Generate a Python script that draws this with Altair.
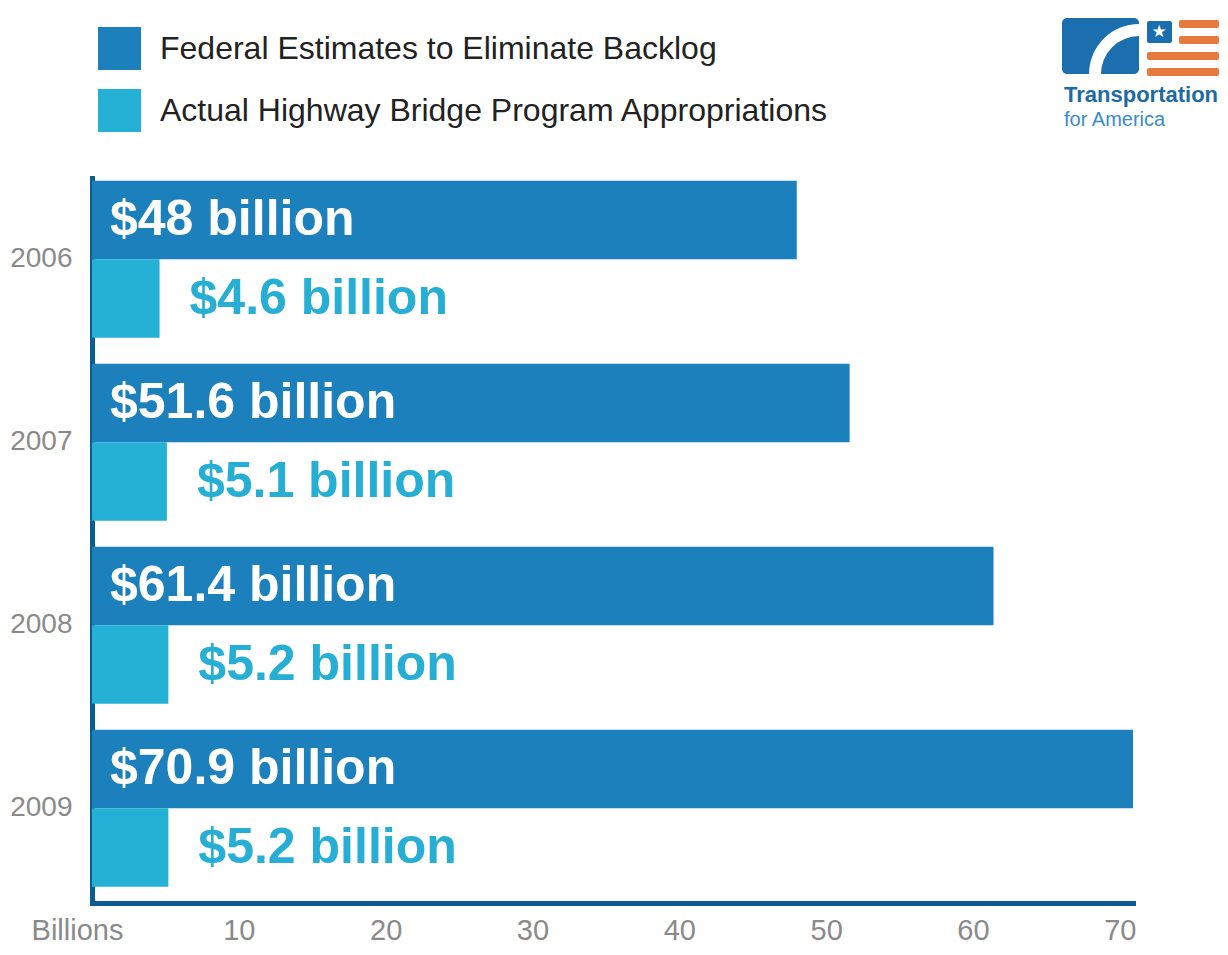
import altair as alt
import pandas as pd

years = ["2006", "2007", "2008", "2009"]
federal = [48, 51.6, 61.4, 70.9]
actual = [4.6, 5.1, 5.2, 5.2]
series_names = ["Federal Estimates to Eliminate Backlog",
                "Actual Highway Bridge Program Appropriations"]
tick_values = [0, 10, 20, 30, 40, 50, 60, 70]
axis_unit_label = "Billions"
logo_line1 = "Transportation"
logo_line2 = "for America"

FED_COLOR = "#1b80bb"
ACT_COLOR = "#25b0d6"
ACT_TEXT = "#27aed4"
AXIS_COLOR = "#0b5c91"
GRAY = "#8a8a8a"
FONT = "Liberation Sans"
LOGO_BLUE = "#1c6fae"
LOGO_ORANGE = "#e57a3c"

rows = []
for yr, f, a in zip(years, federal, actual):
    rows.append({"year": yr, "series": series_names[0], "value": f, "label": f"${f:g} billion"})
    rows.append({"year": yr, "series": series_names[1], "value": a, "label": f"${a:g} billion"})
df = pd.DataFrame(rows)

W, H = 1041, 725

x_enc = alt.X(
    "value:Q",
    scale=alt.Scale(domain=[0, 70.9], nice=False, zero=True),
    axis=alt.Axis(
        values=tick_values,
        labelExpr=f"datum.value == 0 ? '{axis_unit_label}' : datum.label",
        title=None, grid=False, ticks=False,
        domainColor=AXIS_COLOR, domainWidth=5, domainCap="square",
        labelFont=FONT, labelFontSize=29, labelColor=GRAY, labelPadding=13,
        labelOffset={"condition": {"test": "datum.value == 0", "value": -15}, "value": 0},
        labelFlush=False, labelOverlap=False,
    ),
)
y_enc = alt.Y(
    "year:N", sort=years,
    scale=alt.Scale(paddingInner=0.142, paddingOuter=0.052, align=0.15),
    axis=alt.Axis(
        title=None, ticks=False,
        domainColor=AXIS_COLOR, domainWidth=5, domainCap="square",
        labelFont=FONT, labelFontSize=28, labelColor=GRAY, labelPadding=20,
    ),
)
yoff_enc = alt.YOffset(
    "series:N", sort=series_names,
    scale=alt.Scale(domain=series_names, paddingInner=0, paddingOuter=0),
)

bars = alt.Chart(df).mark_bar().encode(
    x=x_enc, y=y_enc, yOffset=yoff_enc,
    color=alt.Color(
        "series:N",
        scale=alt.Scale(domain=series_names, range=[FED_COLOR, ACT_COLOR]),
        legend=alt.Legend(
            title=None, orient="none", legendX=6, legendY=-151,
            direction="vertical", symbolType="square", symbolSize=1849,
            symbolStrokeWidth=0, symbolOpacity=1,
            labelFont=FONT, labelFontSize=32, labelColor="#222222",
            labelOffset=19, rowPadding=19, padding=0, labelLimit=0,
        ),
    ),
)

fed_text = alt.Chart(df).transform_filter(
    alt.datum.series == series_names[0]
).mark_text(
    align="left", baseline="middle", dx=18, font=FONT, fontWeight="bold",
    fontSize=50, color="white",
).encode(x=alt.datum(0), y=y_enc, yOffset=yoff_enc, text="label:N")

act_text = alt.Chart(df).transform_filter(
    alt.datum.series == series_names[1]
).mark_text(
    align="left", baseline="middle", dx=30, font=FONT, fontWeight="bold",
    fontSize=50, color=ACT_TEXT,
).encode(x=x_enc, y=y_enc, yOffset=yoff_enc, text="label:N")

# ---- logo (decoration) ----
dummy = pd.DataFrame({"k": [0]})


def rect(x1, x2, y1, y2, color, r=0):
    return alt.Chart(dummy).mark_rect(color=color, cornerRadius=r).encode(
        x=alt.value(x1), x2=alt.value(x2), y=alt.value(y1), y2=alt.value(y2)
    )


logo = [
    rect(970, 1047, -160, -104, LOGO_BLUE, 5),
    alt.Chart(dummy).mark_arc(color="white").encode(
        x=alt.value(1047), y=alt.value(-104),
        theta=alt.value(4.712), theta2=alt.value(6.283),
        radius=alt.value(50), radius2=alt.value(38),
    ),
    rect(1055, 1080, -157, -135, LOGO_BLUE, 2),
    alt.Chart(dummy).mark_text(
        text="★", color="white", fontSize=17, font="DejaVu Sans",
        align="center", baseline="middle",
    ).encode(x=alt.value(1067), y=alt.value(-146)),
    rect(1087, 1127, -158, -150, LOGO_ORANGE, 2),
    rect(1087, 1127, -142, -134, LOGO_ORANGE, 2),
    rect(1055, 1127, -126, -118, LOGO_ORANGE, 2),
    rect(1055, 1127, -110, -102, LOGO_ORANGE, 2),
    alt.Chart(dummy).mark_text(
        text=logo_line1, color="#1d6aa5", fontSize=22, font=FONT,
        fontWeight="bold", align="left", baseline="alphabetic",
    ).encode(x=alt.value(972), y=alt.value(-76)),
    alt.Chart(dummy).mark_text(
        text=logo_line2, color="#3a8cc6", fontSize=20, font=FONT,
        align="left", baseline="alphabetic",
    ).encode(x=alt.value(972), y=alt.value(-52)),
]

chart = alt.layer(bars, fed_text, act_text, *logo).properties(
    width=W, height=H,
    autosize=alt.AutoSizeParams(type="none"),
    padding={"left": 84, "top": 170, "right": 87, "bottom": 44},
).configure_view(stroke=None)

chart.save("out.html", embed_options={"renderer": "svg", "actions": False})
